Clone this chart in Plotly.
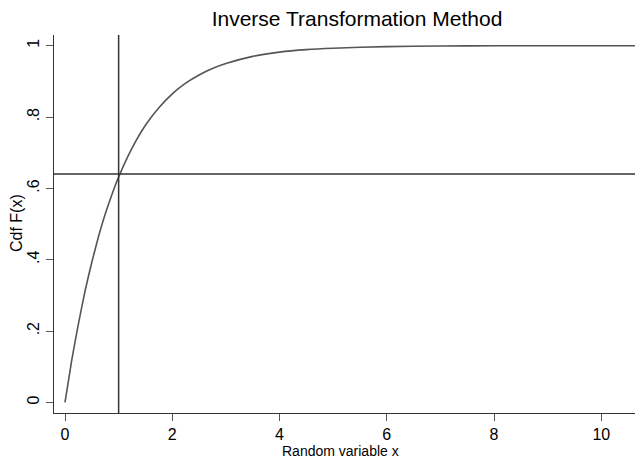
import plotly.graph_objects as go

# Values
x_vals = [0, 0.125, 0.25, 0.375, 0.5, 0.625, 0.75, 0.875, 1.0, 1.25, 1.5, 1.75, 2.0, 2.25, 2.5, 2.75,
          3.0, 3.5, 4.0, 4.5, 5.0, 6.0, 7.0, 8.0, 9.0, 10.65]
cdf_vals = [0, 0.118, 0.22, 0.313, 0.393, 0.465, 0.528, 0.583, 0.632, 0.713, 0.777, 0.826, 0.865,
            0.895, 0.918, 0.936, 0.950, 0.970, 0.982, 0.989, 0.993, 0.9975, 0.999, 0.9997, 0.9999, 1.0]
x_draw = 1.0
u_draw = 0.64

x_tickvals = [0, 2, 4, 6, 8, 10]
x_ticktext = ["0", "2", "4", "6", "8", "10"]
y_tickvals = [0, 0.2, 0.4, 0.6, 0.8, 1.0]
y_ticktext = ["0", ".2", ".4", ".6", ".8", "1"]

FONT = "Liberation Sans, Arial, sans-serif"
OFF = 8  # page body margin
W, H = 643, 458 - OFF
L, R, T = 54 - OFF, 0, 35 - OFF
B = H - (413 - OFF)

# axis range: data->pixel mapping 0 -> 65px, 10 -> 601px (page coords)
px0, px_per = 65.0, 53.63
x_lo = (54 - px0) / px_per
x_hi = (OFF + W - px0) / px_per

fig = go.Figure()
fig.add_trace(go.Scatter(
    x=x_vals, y=cdf_vals, mode="lines",
    line=dict(color="#555555", width=1.6, shape="spline", smoothing=0.5),
    showlegend=False, hoverinfo="skip",
))
fig.add_vline(x=x_draw, line=dict(color="#333333", width=1.5))
fig.add_hline(y=u_draw, line=dict(color="#333333", width=1.5))

pw, ph = W - L - R, H - T - B

fig.update_layout(
    width=W, height=H,
    margin=dict(l=L, r=R, t=T, b=B, pad=0),
    paper_bgcolor="white", plot_bgcolor="white",
    font=dict(family=FONT, color="black"),
    title=dict(text="Inverse Transformation Method", x=(357 - OFF) / W, xref="container", xanchor="center",
               y=1 - (19 - OFF) / H, yref="container", yanchor="middle",
               font=dict(family=FONT, size=21, color="black")),
    xaxis=dict(range=[x_lo, x_hi], tickvals=x_tickvals, ticktext=x_ticktext,
               showgrid=False, zeroline=False, showline=True, linecolor="#333333", linewidth=1.3,
               ticks="outside", ticklen=7, tickcolor="#555555", tickwidth=1.3,
               tickfont=dict(family=FONT, size=16, color="black")),
    yaxis=dict(range=[-0.0297, 1.030], tickvals=y_tickvals, ticktext=y_ticktext,
               showgrid=False, zeroline=False, showline=True, linecolor="#333333", linewidth=1.3,
               ticks="outside", ticklen=7, tickcolor="#555555", tickwidth=1.3, tickangle=-90,
               tickfont=dict(family=FONT, size=16, color="black")),
    annotations=[
        dict(text="Random variable x", xref="paper", yref="paper",
             x=(340 - 54) / pw, y=(413 - 451) / ph,
             xanchor="center", yanchor="middle", showarrow=False,
             font=dict(family=FONT, size=14, color="black")),
        dict(text="Cdf F(x)", xref="paper", yref="paper", textangle=-90,
             x=(16 - 54) / pw, y=(413 - 223) / ph,
             xanchor="center", yanchor="middle", showarrow=False,
             font=dict(family=FONT, size=16, color="black")),
    ],
)

fig.write_html("out.html")
